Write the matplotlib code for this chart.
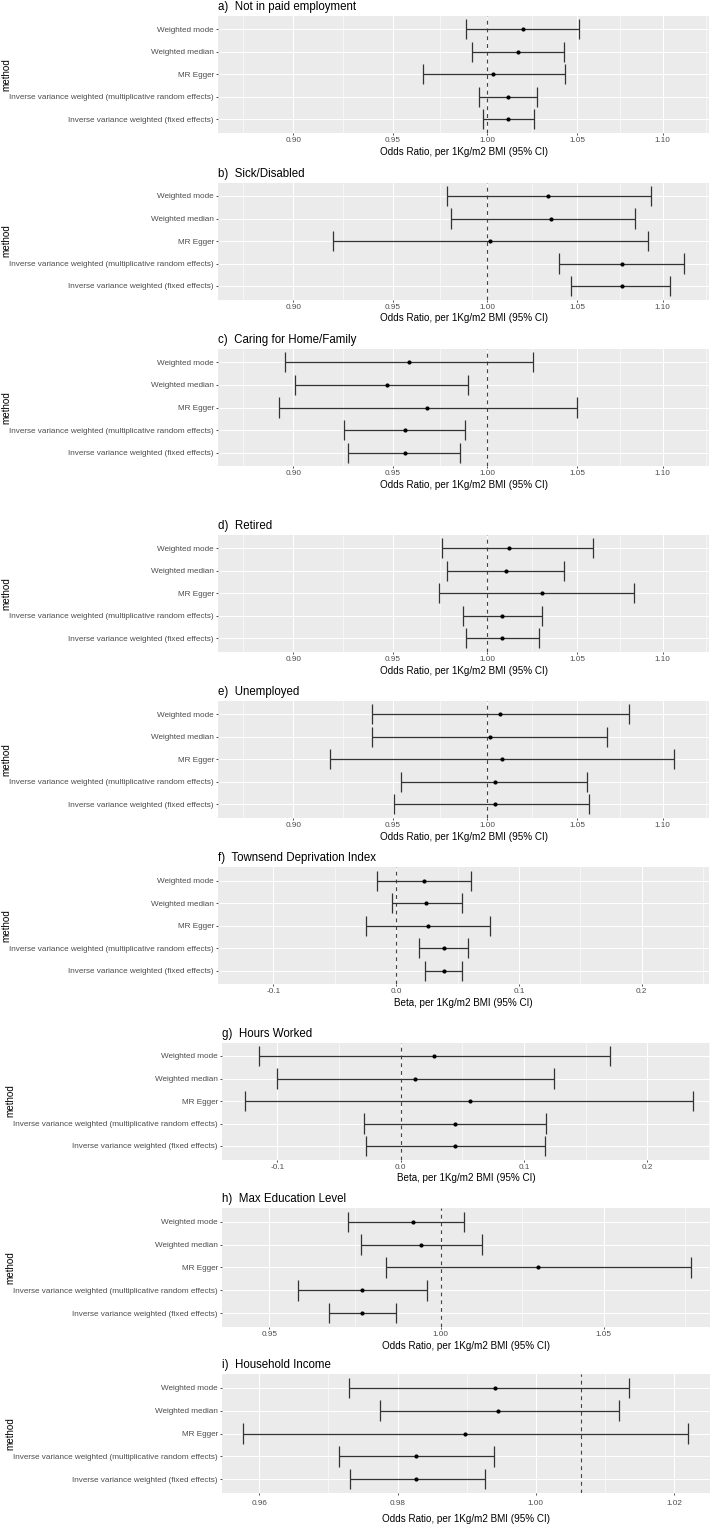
import numpy as np
import matplotlib
matplotlib.use("Agg")
import matplotlib.pyplot as plt
from matplotlib.ticker import FixedLocator, NullFormatter

plt.rcParams['font.family'] = ['Liberation Sans', 'DejaVu Sans']

# methods, bottom to top (ggplot puts the first level at the bottom)
methods = ["Inverse variance weighted (fixed effects)",
           "Inverse variance weighted (multiplicative random effects)",
           "MR Egger", "Weighted median", "Weighted mode"]

# a) Not in paid employment
a_est = [1.0113, 1.0113, 1.0034, 1.0168, 1.0196]
a_lo = [0.9975, 0.9957, 0.9657, 0.9917, 0.9887]
a_hi = [1.0255, 1.0274, 1.0431, 1.0426, 1.0513]
# b) Sick/Disabled
b_est = [1.0761, 1.0761, 1.0016, 1.0354, 1.0337]
b_lo = [1.0466, 1.0400, 0.9197, 0.9806, 0.9783]
b_hi = [1.1046, 1.1130, 1.0911, 1.0836, 1.0930]
# c) Caring for Home/Family
c_est = [0.9562, 0.9562, 0.9679, 0.9472, 0.9586]
c_lo = [0.9274, 0.9251, 0.8929, 0.9007, 0.8962]
c_hi = [0.9853, 0.9880, 1.0497, 0.9897, 1.0253]
# d) Retired
d_est = [1.0083, 1.0083, 1.0301, 1.0101, 1.0121]
d_lo = [0.9885, 0.9870, 0.9744, 0.9783, 0.9756]
d_hi = [1.0286, 1.0303, 1.0830, 1.0427, 1.0591]
# e) Unemployed
e_est = [1.0041, 1.0041, 1.0083, 1.0014, 1.0071]
e_lo = [0.9505, 0.9543, 0.9183, 0.9395, 0.9395]
e_hi = [1.0570, 1.0557, 1.1067, 1.0670, 1.0803]
# f) Townsend Deprivation Index
f_est = [0.0387, 0.0387, 0.0257, 0.0245, 0.0223]
f_lo = [0.0238, 0.0186, -0.0242, -0.0037, -0.0156]
f_hi = [0.0539, 0.0584, 0.0762, 0.0535, 0.0610]
# g) Hours Worked
g_est = [0.0437, 0.0437, 0.0563, 0.0119, 0.0270]
g_lo = [-0.0278, -0.0300, -0.1259, -0.1000, -0.1148]
g_hi = [0.1167, 0.1181, 0.2370, 0.1241, 0.1693]
# h) Max Education Level
h_est = [0.9767, 0.9767, 1.0297, 0.9942, 0.9916]
h_lo = [0.9672, 0.9583, 0.9838, 0.9763, 0.9727]
h_hi = [0.9867, 0.9958, 1.0778, 1.0123, 1.0071]
# i) Household Income
i_est = [0.9827, 0.9827, 0.9898, 0.9946, 0.9941]
i_lo = [0.9731, 0.9715, 0.9576, 0.9774, 0.9730]
i_hi = [0.9926, 0.9940, 1.0220, 1.0120, 1.0135]

or_ticks = [0.90, 0.95, 1.00, 1.05, 1.10]
beta_ticks = [-0.1, 0.0, 0.1, 0.2]
h_ticks = [0.95, 1.00, 1.05]
i_ticks = [0.96, 0.98, 1.00, 1.02]

OR_LAB = "Odds Ratio, per 1Kg/m2 BMI (95% CI)"
BETA_LAB = "Beta, per 1Kg/m2 BMI (95% CI)"

W, H = 715, 1531
fig = plt.figure(figsize=(W / 100, H / 100), dpi=100)


def add_panel(px, title, est, lo, hi, ticks, ticklabels, xlim, xlabel,
              log=False, ref=None, tick_pad=1.6, labelpad=2.0, ylab_x=6.5):
    left, right, top, bottom = px
    ax = fig.add_axes([left / W, 1 - bottom / H, (right - left) / W, (bottom - top) / H])
    ax.set_facecolor('#EBEBEB')
    for s in ax.spines.values():
        s.set_visible(False)
    y = np.arange(len(methods))
    est, lo, hi = np.array(est), np.array(lo), np.array(hi)
    if log:
        ax.set_xscale('log')
        lt = np.log(ticks)
        minor = np.exp(np.concatenate([[lt[0] - (lt[1] - lt[0]) / 2],
                                       (lt[:-1] + lt[1:]) / 2,
                                       [lt[-1] + (lt[-1] - lt[-2]) / 2]]))
    else:
        t = np.array(ticks)
        minor = np.concatenate([[t[0] - (t[1] - t[0]) / 2], (t[:-1] + t[1:]) / 2,
                                [t[-1] + (t[-1] - t[-2]) / 2]])
    ax.set_xlim(*xlim)
    ax.set_ylim(-0.6, len(methods) - 0.4)
    ax.xaxis.set_major_locator(FixedLocator(ticks))
    ax.set_xticklabels(ticklabels)
    ax.xaxis.set_minor_locator(FixedLocator(minor))
    ax.xaxis.set_minor_formatter(NullFormatter())
    ax.set_yticks(y)
    ax.set_yticklabels(methods)
    ax.grid(True, which='major', color='white', lw=0.75)
    ax.grid(True, which='minor', axis='x', color='white', lw=0.4)
    ax.set_axisbelow(True)
    ax.tick_params(which='major', length=1.4, width=0.6, color='#333333',
                   labelsize=5.9, labelcolor='#4D4D4D', pad=1.6)
    ax.tick_params(axis='x', which='major', pad=tick_pad)
    ax.tick_params(which='minor', length=0)
    ax.axvline(1.0 if ref is None else ref, color='#444444', lw=0.8,
               ls=(0, (3.5, 3.5)), zorder=1)
    ax.hlines(y, lo, hi, color='#333333', lw=0.9, zorder=2)
    ax.vlines(lo, y - 0.45, y + 0.45, color='#333333', lw=0.9, zorder=2)
    ax.vlines(hi, y - 0.45, y + 0.45, color='#333333', lw=0.9, zorder=2)
    ax.scatter(est, y, s=9, color='black', zorder=3, linewidths=0)
    ax.set_title(title, loc='left', fontsize=8.3, pad=4.2, color='black')
    ax.set_xlabel(xlabel, fontsize=7.1, labelpad=labelpad, color='black')
    ax.set_ylabel("method", fontsize=7.1, color='black', va='center')
    ax.yaxis.set_label_coords((ylab_x - left) / (right - left), 0.5)
    return ax


L1, R1 = 218, 709
L2, R2 = 222, 710
or_labels = ["0.90", "0.95", "1.00", "1.05", "1.10"]
beta_labels = ["-0.1", "0.0", "0.1", "0.2"]

add_panel((L1, R1, 15.8, 132.8), "a)  Not in paid employment", a_est, a_lo, a_hi,
          or_ticks, or_labels, (0.864, 1.128), OR_LAB, log=True)
add_panel((L1, R1, 182.5, 299.5), "b)  Sick/Disabled", b_est, b_lo, b_hi,
          or_ticks, or_labels, (0.864, 1.128), OR_LAB, log=True)
add_panel((L1, R1, 348.7, 466.3), "c)  Caring for Home/Family", c_est, c_lo, c_hi,
          or_ticks, or_labels, (0.864, 1.128), OR_LAB, log=True)
add_panel((L1, R1, 534.8, 651.8), "d)  Retired", d_est, d_lo, d_hi,
          or_ticks, or_labels, (0.864, 1.128), OR_LAB, log=True)
add_panel((L1, R1, 700.8, 817.8), "e)  Unemployed", e_est, e_lo, e_hi,
          or_ticks, or_labels, (0.864, 1.128), OR_LAB, log=True)
add_panel((L1, R1, 867.2, 984.2), "f)  Townsend Deprivation Index", f_est, f_lo, f_hi,
          beta_ticks, beta_labels, (-0.145, 0.2547), BETA_LAB, ref=0.0)
add_panel((L2, R2, 1042.5, 1159.5), "g)  Hours Worked", g_est, g_lo, g_hi,
          beta_ticks, beta_labels, (-0.1448, 0.2507), BETA_LAB, ref=0.0, ylab_x=10.5)
add_panel((L2, R2, 1208.3, 1326.7), "h)  Max Education Level", h_est, h_lo, h_hi,
          h_ticks, ["0.95", "1.00", "1.05"], (0.9366, 1.084), OR_LAB, log=True, ylab_x=10.5)
add_panel((L2, R2, 1374.3, 1492.7), "i)  Household Income", i_est, i_lo, i_hi,
          i_ticks, ["0.96", "0.98", "1.00", "1.02"], (0.9546, 1.0252), OR_LAB,
          ref=1.0066, tick_pad=3.8, labelpad=4.9, ylab_x=10.5)

fig.savefig("out.png", dpi=100, facecolor='white')
